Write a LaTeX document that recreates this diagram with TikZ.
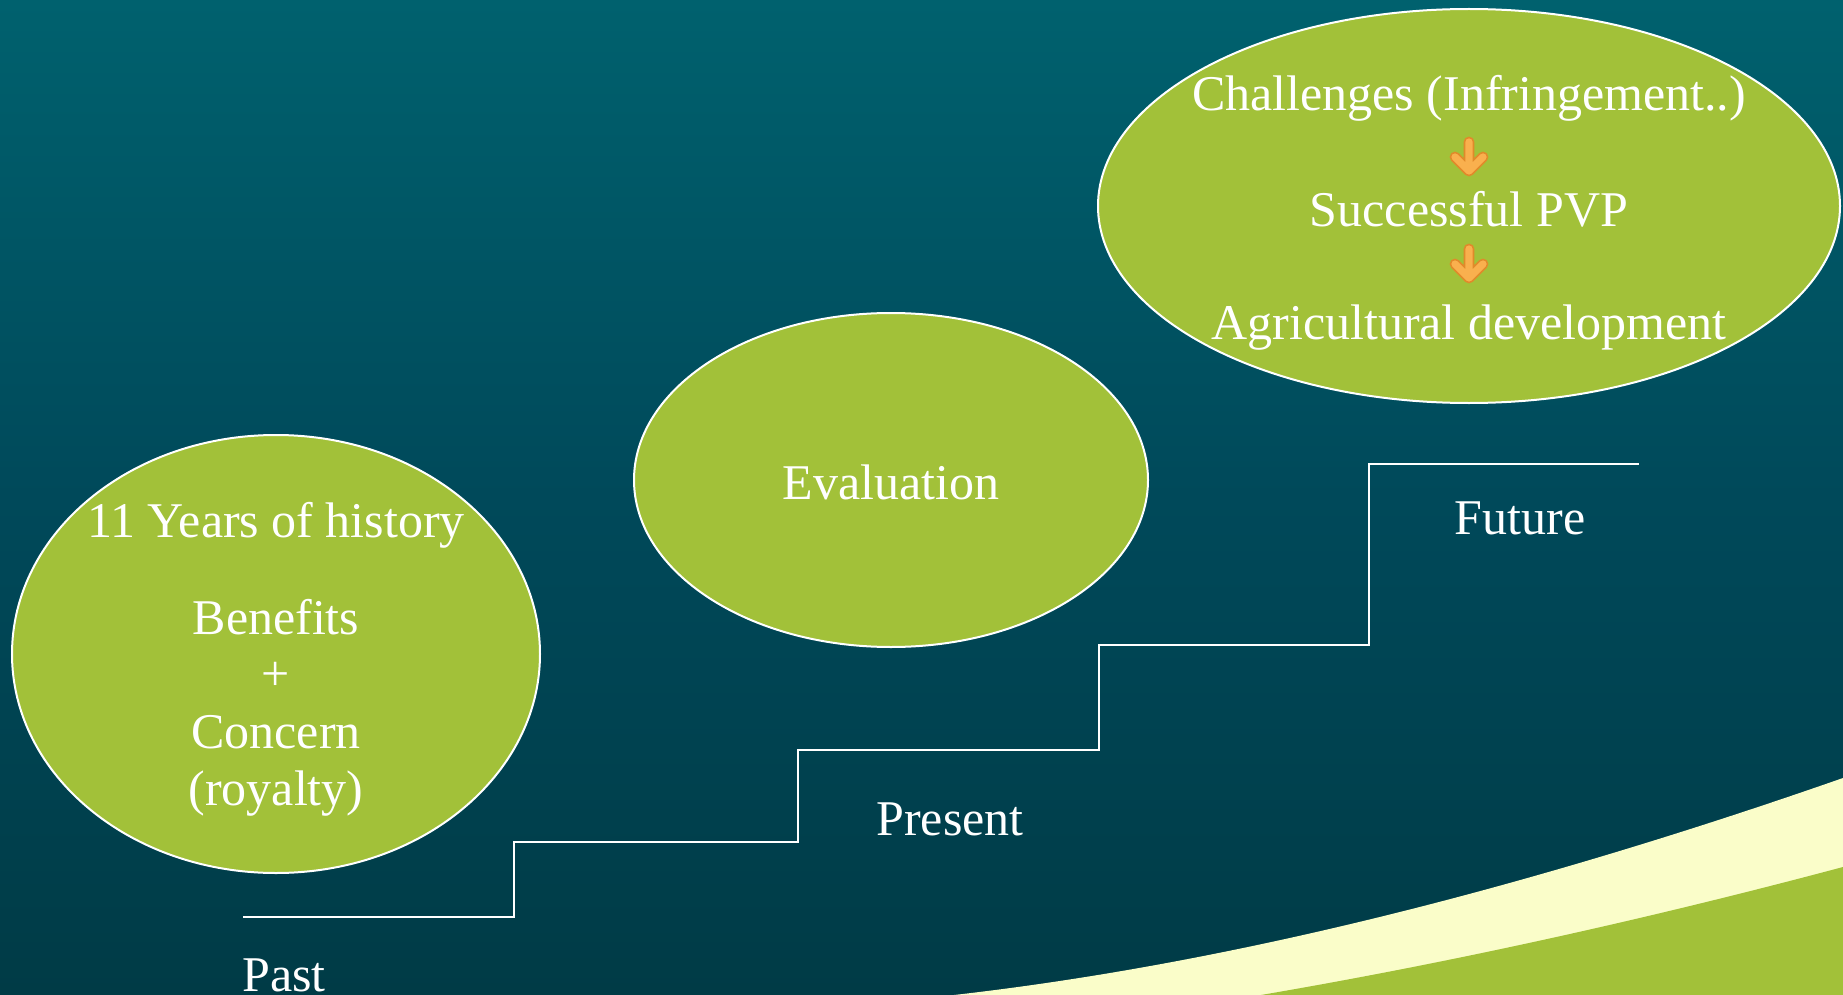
\documentclass[tikz,border=0pt]{standalone}
\usepackage{fontspec}
\setmainfont{Liberation Serif}
\usetikzlibrary{shapes.geometric}
\definecolor{bgtop}{HTML}{00616E}
\definecolor{bgmid}{HTML}{00495A}
\definecolor{bgbot}{HTML}{003B46}
\definecolor{leaf}{HTML}{A2C139}
\definecolor{cream}{HTML}{FAFDC9}
\definecolor{arrowor}{HTML}{F9B04E}
\definecolor{arrowdk}{HTML}{E08A2A}
\begin{document}
\begin{tikzpicture}[x=0.5pt,y=-0.5pt,
  bubble/.style={ellipse, draw=white, line width=1pt, fill=leaf, inner sep=0pt},
  txt/.style={text=white, font=\fontsize{25}{30}\selectfont, inner sep=0pt},
  stair/.style={draw=white, line width=1.3pt},
  arrowedge/.style={draw=arrowdk, line width=5.4pt, line cap=round, line join=round},
  arrowbody/.style={draw=arrowor, line width=3.6pt, line cap=round, line join=round},
  downarrow/.pic={
    \draw[arrowedge] (0,-15) -- (0,14) (-14,0) -- (0,14) -- (14,0);
    \draw[arrowbody] (0,-15) -- (0,14) (-14,0) -- (0,14) -- (14,0);
  }]
\useasboundingbox (0,0) rectangle (1843,995);
\shade[top color=bgtop, bottom color=bgbot, middle color=bgmid] (0,0) rectangle (1843,995);
% bottom-right bands
\fill[cream] (954,995) .. controls (1218,965) and (1514,893) .. (1843,778) -- (1843,995) -- cycle;
\fill[leaf] (1261,995) .. controls (1454,962) and (1648,919) .. (1843,867) -- (1843,995) -- cycle;
% ellipses
\node[bubble, minimum width=264pt, minimum height=219pt] (past) at (276,654) {};
\node[bubble, minimum width=257pt, minimum height=167pt] (eval) at (891,480) {};
\node[bubble, minimum width=371pt, minimum height=197pt] (fut) at (1469,206) {};
% texts in ellipses
\node[txt] (hist) at (276,525) {11 Years of history};
\node[txt] (ben) at (276,617) {Benefits};
\node[txt] (plus) at (276,676) {+};
\node[txt] (conc) at (276,732) {Concern};
\node[txt] (roy) at (276,794) {(royalty)};
\node[txt] (evt) at (891,482) {Evaluation};
\node[txt] (chal) at (1469,98) {Challenges (Infringement..)};
\node[txt] (pvp) at (1469,209) {Successful PVP};
\node[txt] (agri) at (1469,328) {Agricultural development};
\pic at (1469,157) {downarrow};
\pic at (1469,264) {downarrow};
% stairs
\draw[stair] (243,917) -| (514,842) -| (798,750) -| (1099,645) -| (1369,464) -- (1639,464);
% stair labels
\node[txt] (futl) at (1520,518) {Future};
\node[txt] (pres) at (950,819) {Present};
\node[txt] (pastl) at (284,975) {Past};
\end{tikzpicture}
\end{document}
